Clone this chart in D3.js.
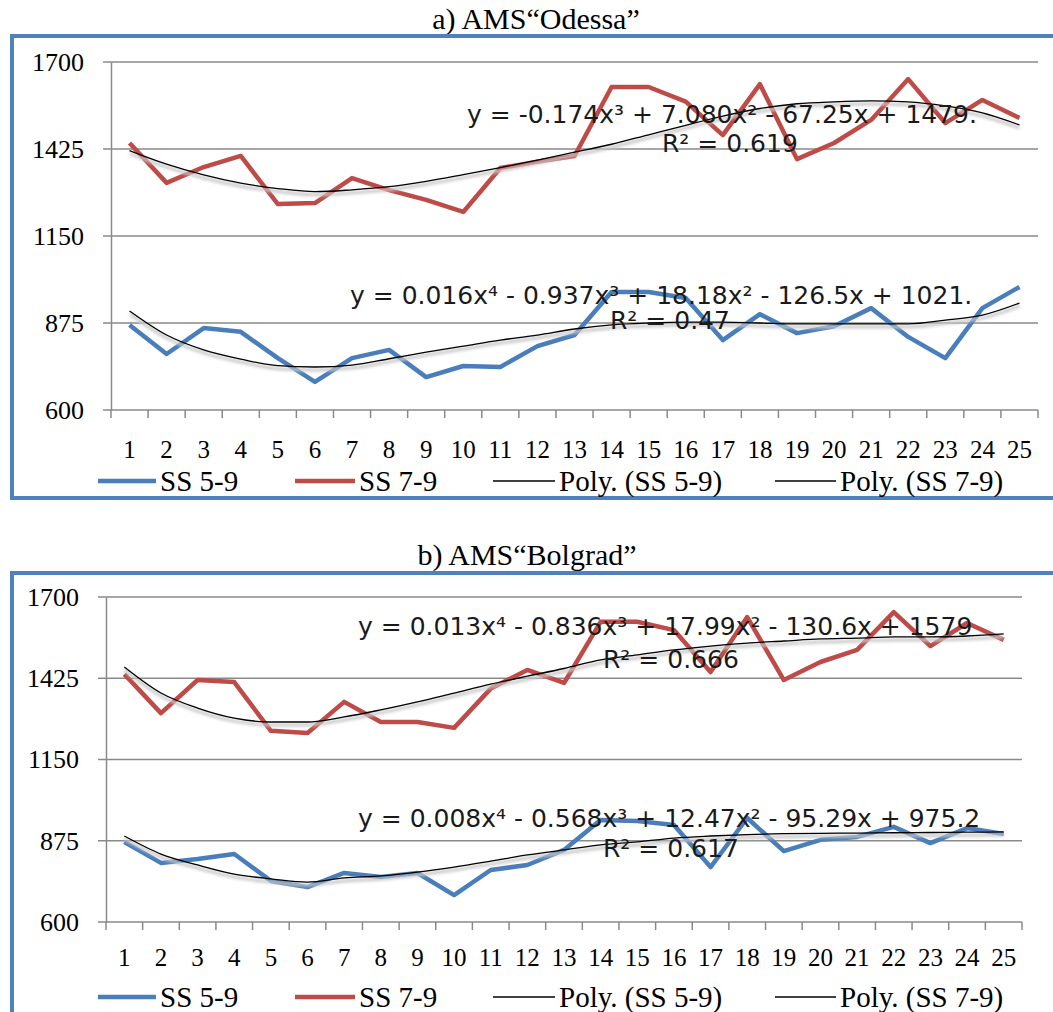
<!DOCTYPE html>
<html>
<head>
<meta charset="utf-8">
<script src="https://cdn.jsdelivr.net/npm/d3@7"></script>
<style>
  body { margin: 0; background: #fff; }
  svg { display: block; }
</style>
</head>
<body>
<div id="chart"></div>
<script>
// x categories (years 1..25) and y gridline values
const categories = ["1", "2", "3", "4", "5", "6", "7", "8", "9", "10", "11", "12", "13",
  "14", "15", "16", "17", "18", "19", "20", "21", "22", "23", "24", "25"];
const yTickValues = [600, 875, 1150, 1425, 1700];

const seriesNames = ["SS 5-9", "SS 7-9", "Poly. (SS 5-9)", "Poly. (SS 7-9)"];

// a) Odessa
const odessaSS59 = [869, 777, 859, 847, 764, 689, 764, 790, 704, 739, 736, 802, 837,
  973, 973, 954, 821, 903, 843, 865, 922, 831, 764, 922, 989];
const odessaSS79 = [1444, 1318, 1368, 1403, 1251, 1254, 1333, 1295, 1264, 1226, 1365, 1385, 1403,
  1621, 1621, 1575, 1469, 1630, 1393, 1444, 1517, 1646, 1507, 1580, 1523];
const odessaPoly59 = [913, 837, 790, 761, 740, 736, 742, 762, 783, 802, 821, 837, 856,
  869, 875, 878, 878, 875, 872, 872, 872, 872, 884, 900, 938];
const odessaPoly79 = [1420, 1377, 1343, 1317, 1300, 1290, 1296, 1306, 1323, 1344, 1366, 1390, 1415,
  1440, 1470, 1500, 1529, 1553, 1568, 1574, 1577, 1574, 1561, 1539, 1501];
const odessaEquations = [
  "y = -0.174x³ + 7.080x² - 67.25x + 1479.", "R² = 0.619",
  "y = 0.016x⁴ - 0.937x³ + 18.18x² - 126.5x + 1021.", "R² = 0.47"
];

// b) Bolgrad
const bolgradSS59 = [871, 800, 813, 830, 739, 718, 766, 752, 766, 691, 776, 793, 844,
  945, 942, 928, 786, 952, 840, 878, 888, 922, 867, 918, 898];
const bolgradSS79 = [1439, 1307, 1419, 1412, 1247, 1240, 1345, 1277, 1277, 1257, 1390, 1453, 1409,
  1616, 1616, 1588, 1446, 1632, 1419, 1480, 1521, 1649, 1534, 1612, 1555];
const bolgradPoly59 = [891, 830, 793, 762, 746, 735, 749, 756, 769, 786, 806, 827, 844,
  861, 871, 884, 891, 896, 899, 900, 901, 902, 903, 904, 905];
const bolgradPoly79 = [1463, 1375, 1324, 1290, 1277, 1277, 1294, 1318, 1345, 1375, 1405, 1432, 1458,
  1487, 1504, 1521, 1534, 1544, 1551, 1558, 1561, 1565, 1565, 1568, 1575];
const bolgradEquations = [
  "y = 0.013x⁴ - 0.836x³ + 17.99x² - 130.6x + 1579", "R² = 0.666",
  "y = 0.008x⁴ - 0.568x³ + 12.47x² - 95.29x + 975.2", "R² = 0.617"
];

const BLUE = "#4a7ebb";
const RED = "#be4b48";
const FRAME = "#4f81bd";
const GRID = "#8a8a8a";
const SERIF = "'Liberation Serif', 'Times New Roman', serif";
const SANS = "'DejaVu Sans', Verdana, sans-serif";

const svg = d3.select("#chart").append("svg")
  .attr("width", 1053)
  .attr("height", 1012);

// soft shadow under the trend lines (Excel style)
svg.append("defs").append("filter")
  .attr("id", "soft")
  .attr("x", "-5%").attr("y", "-50%").attr("width", "110%").attr("height", "200%")
  .append("feGaussianBlur").attr("stdDeviation", 1.4);

// layout of the two panels
const panels = [
  {
    title: "a) AMS“Odessa”", titleX: 536, titleY: 29,
    frameY: 36, frameH: 462,
    x0: 111, x1: 1038, yTop: 62, yBottom: 410,
    labelY: 458, legendY: 481,
    ss59: odessaSS59, ss79: odessaSS79, poly59: odessaPoly59, poly79: odessaPoly79,
    equations: odessaEquations,
    eqPos: [[467, 123], [662, 152], [350, 304], [610, 329]]
  },
  {
    title: "b) AMS“Bolgrad”", titleX: 527, titleY: 565,
    frameY: 573, frameH: 520,
    x0: 106, x1: 1022, yTop: 597, yBottom: 922,
    labelY: 966, legendY: 997,
    ss59: bolgradSS59, ss79: bolgradSS79, poly59: bolgradPoly59, poly79: bolgradPoly79,
    equations: bolgradEquations,
    eqPos: [[358, 635], [603, 668], [358, 827], [603, 857]]
  }
];

// legend layout: line start, line length
const legendSlots = [[98, 58], [295, 60], [493, 62], [775, 61]];

function drawPanel(p) {
  const g = svg.append("g");

  g.append("text")
    .attr("x", p.titleX).attr("y", p.titleY)
    .attr("text-anchor", "middle")
    .style("font-family", SERIF).style("font-size", "30px")
    .text(p.title);

  // blue outer frame (runs off the right edge)
  g.append("rect")
    .attr("x", 12).attr("y", p.frameY)
    .attr("width", 1100).attr("height", p.frameH)
    .attr("fill", "none").attr("stroke", FRAME).attr("stroke-width", 4);

  const x = d3.scaleBand().domain(categories).range([p.x0, p.x1]).padding(0);
  const y = d3.scaleLinear().domain([600, 1700]).range([p.yBottom, p.yTop]);
  const cx = (d) => x(d) + x.bandwidth() / 2;

  // gridlines
  g.append("g").selectAll("line").data(yTickValues).join("line")
    .attr("x1", p.x0 - 8).attr("x2", p.x1)
    .attr("y1", (d) => y(d)).attr("y2", (d) => y(d))
    .attr("stroke", GRID).attr("stroke-width", 1.5);

  // y axis
  const yAxis = g.append("g")
    .attr("transform", `translate(${p.x0},0)`)
    .call(d3.axisLeft(y).tickValues(yTickValues).tickFormat(d3.format("d"))
      .tickSize(0).tickPadding(27));
  yAxis.select(".domain").attr("stroke", GRID).attr("stroke-width", 1.5);
  yAxis.selectAll("text")
    .style("font-family", SERIF).style("font-size", "26px").attr("fill", "#000");

  // x axis ticks at category boundaries
  const boundaries = categories.map((c) => x(c)).concat([p.x1]);
  g.append("g").selectAll("line").data(boundaries).join("line")
    .attr("x1", (d) => d).attr("x2", (d) => d)
    .attr("y1", p.yBottom).attr("y2", p.yBottom + 8)
    .attr("stroke", GRID).attr("stroke-width", 1.5);

  g.append("g").selectAll("text").data(categories).join("text")
    .attr("x", (d) => cx(d)).attr("y", p.labelY)
    .attr("text-anchor", "middle")
    .style("font-family", SERIF).style("font-size", "25px")
    .text((d) => d);

  const line = d3.line().x((d, i) => cx(categories[i])).y((d) => y(d));
  const smooth = d3.line().x((d, i) => cx(categories[i])).y((d) => y(d))
    .curve(d3.curveMonotoneX);

  // data series
  [[p.ss59, BLUE], [p.ss79, RED]].forEach(([vals, color]) => {
    g.append("path").datum(vals)
      .attr("d", line)
      .attr("fill", "none").attr("stroke", color)
      .attr("stroke-width", 4.5).attr("stroke-linejoin", "round");
  });

  // polynomial trend lines with shadow
  [p.poly59, p.poly79].forEach((vals) => {
    g.append("path").datum(vals)
      .attr("d", smooth)
      .attr("transform", "translate(0,3)")
      .attr("fill", "none").attr("stroke", "#c8c8c8")
      .attr("stroke-width", 3).attr("filter", "url(#soft)");
    g.append("path").datum(vals)
      .attr("d", smooth)
      .attr("fill", "none").attr("stroke", "#000").attr("stroke-width", 1.3);
  });

  // trendline equations
  g.append("g").selectAll("text").data(p.equations).join("text")
    .attr("x", (d, i) => p.eqPos[i][0]).attr("y", (d, i) => p.eqPos[i][1])
    .style("font-family", SANS).style("font-size", "25px")
    .attr("fill", "#1a1a1a")
    .text((d) => d);

  // legend
  const colors = [BLUE, RED, "#000", "#000"];
  const widths = [4.5, 4.5, 1.3, 1.3];
  const leg = g.append("g").selectAll("g").data(seriesNames).join("g");
  leg.append("line")
    .attr("x1", (d, i) => legendSlots[i][0])
    .attr("x2", (d, i) => legendSlots[i][0] + legendSlots[i][1])
    .attr("y1", p.legendY).attr("y2", p.legendY)
    .attr("stroke", (d, i) => colors[i]).attr("stroke-width", (d, i) => widths[i]);
  leg.append("text")
    .attr("x", (d, i) => legendSlots[i][0] + legendSlots[i][1] + 4)
    .attr("y", p.legendY + 10)
    .style("font-family", SERIF).style("font-size", "29px")
    .text((d) => d);
}

panels.forEach(drawPanel);
</script>
</body>
</html>
